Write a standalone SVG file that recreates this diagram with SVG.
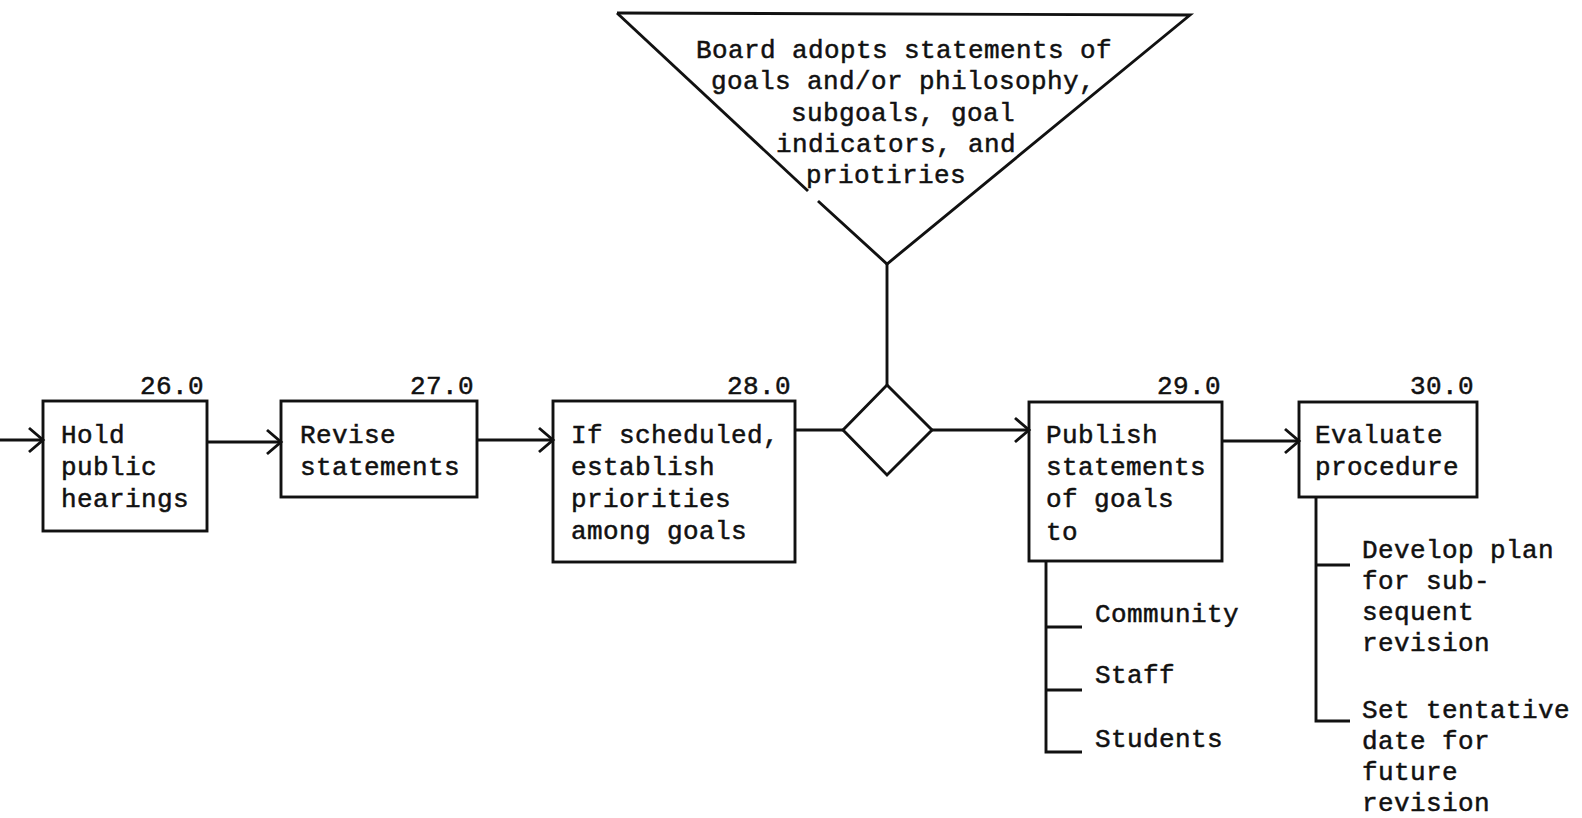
<svg xmlns="http://www.w3.org/2000/svg" width="1582" height="818" viewBox="0 0 1582 818">
  <defs>
    <marker id="chev" markerUnits="userSpaceOnUse" markerWidth="30" markerHeight="30" viewBox="-16 -15 20 30" refX="0" refY="0" orient="auto">
      <path d="M-14,-12 L0,0 L-14,12" fill="none" stroke="#111" stroke-width="2.9" stroke-linejoin="miter"/>
    </marker>
  </defs>
  <style>
    .bg { fill: #ffffff; }
    .box { fill: none; stroke: #111; stroke-width: 2.9; }
    .ln { fill: none; stroke: #111; stroke-width: 2.9; }
    .arr { fill: none; stroke: #111; stroke-width: 2.9; marker-end: url(#chev); }
    text { font-family: "Liberation Mono", "Courier New", monospace; font-size: 26px; letter-spacing: 0.4px; fill: #111; stroke: #111; stroke-width: 0.5px; }
    .num { text-anchor: end; }
  </style>
  <rect class="bg" x="0" y="0" width="1582" height="818"/>

  <!-- decision triangle: board adoption -->
  <g id="board-adopts">
    <path class="ln" d="M617,13 L1190,15 L887,264 L818,201"/>
    <path class="ln" d="M617,13 L808,191"/>
    <text x="696" y="58">Board adopts statements of</text>
    <text x="711" y="89">goals and/or philosophy,</text>
    <text x="791" y="121">subgoals, goal</text>
    <text x="776" y="152">indicators, and</text>
    <text x="806" y="183">priotiries</text>
  </g>

  <!-- junction diamond -->
  <g id="junction">
    <path class="ln" d="M887,385 L932,430 L887,475 L843,430 Z"/>
  </g>

  <g id="step-26">
    <rect class="box" x="43" y="401" width="164" height="130"/>
    <text class="num" x="204" y="394">26.0</text>
    <text x="61" y="443">Hold</text>
    <text x="61" y="475">public</text>
    <text x="61" y="507">hearings</text>
  </g>

  <g id="step-27">
    <rect class="box" x="281" y="401" width="196" height="96"/>
    <text class="num" x="474" y="394">27.0</text>
    <text x="300" y="443">Revise</text>
    <text x="300" y="475">statements</text>
  </g>

  <g id="step-28">
    <rect class="box" x="553" y="401" width="242" height="161"/>
    <text class="num" x="791" y="394">28.0</text>
    <text x="571" y="443">If scheduled,</text>
    <text x="571" y="475">establish</text>
    <text x="571" y="507">priorities</text>
    <text x="571" y="539">among goals</text>
  </g>

  <g id="step-29">
    <rect class="box" x="1029" y="402" width="193" height="159"/>
    <text class="num" x="1221" y="394">29.0</text>
    <text x="1046" y="443">Publish</text>
    <text x="1046" y="475">statements</text>
    <text x="1046" y="507">of goals</text>
    <text x="1046" y="540">to</text>
  </g>

  <g id="step-29-audiences">
    <path class="ln" d="M1046,561 L1046,752 L1082,752 M1046,627 L1082,627 M1046,690 L1082,690"/>
    <text x="1095" y="622">Community</text>
    <text x="1095" y="683">Staff</text>
    <text x="1095" y="747">Students</text>
  </g>

  <g id="step-30">
    <rect class="box" x="1299" y="402" width="178" height="95"/>
    <text class="num" x="1474" y="394">30.0</text>
    <text x="1315" y="443">Evaluate</text>
    <text x="1315" y="475">procedure</text>
  </g>

  <g id="step-30-followup">
    <path class="ln" d="M1316,497 L1316,721 L1350,721 M1316,565 L1350,565"/>
    <text x="1362" y="558">Develop plan</text>
    <text x="1362" y="589">for sub-</text>
    <text x="1362" y="620">sequent</text>
    <text x="1362" y="651">revision</text>
    <text x="1362" y="718">Set tentative</text>
    <text x="1362" y="749">date for</text>
    <text x="1362" y="780">future</text>
    <text x="1362" y="811">revision</text>
  </g>

  <g id="connectors">
    <path class="arr" d="M0,440 L43,440"/>
    <path class="arr" d="M207,442 L281,442"/>
    <path class="arr" d="M477,440 L553,440"/>
    <path class="ln" d="M795,430 L843,430"/>
    <path class="arr" d="M932,430 L1029,430"/>
    <path class="arr" d="M1222,441 L1299,441"/>
    <path class="ln" d="M887,385 L887,264"/>
  </g>
</svg>
